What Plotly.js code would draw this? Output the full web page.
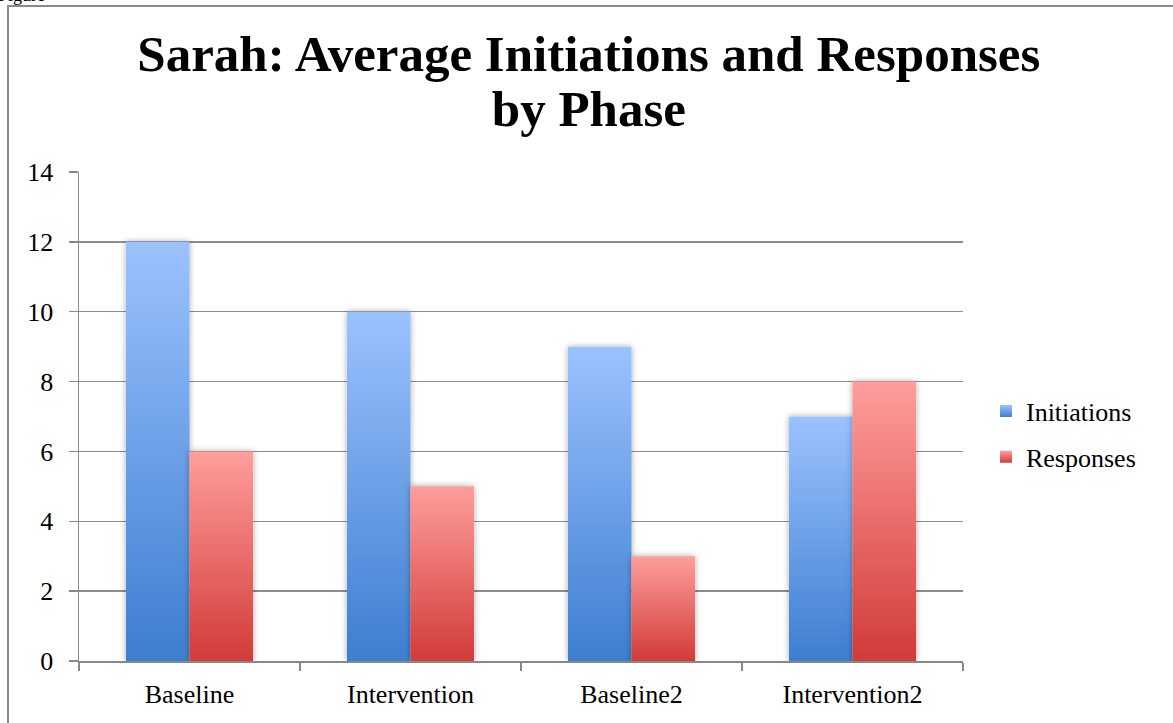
<!DOCTYPE html>
<html><head><meta charset="utf-8">
<script src="https://cdn.plot.ly/plotly-3.0.1.min.js"></script>
<style>
html,body{margin:0;padding:0;background:#fff;width:1173px;height:723px;overflow:hidden;}
#plot{position:absolute;left:0;top:0;width:1173px;height:723px;}
#frame{position:absolute;left:7px;top:5px;width:1170px;height:740px;border:2px solid #8a8a8a;box-sizing:border-box;pointer-events:none;}
#fig{position:absolute;left:-2px;top:-15px;font-family:"Liberation Serif",serif;font-size:18px;line-height:20px;color:#000;}
</style></head>
<body>
<div id="fig">Figure</div>
<div id="plot"></div>
<div id="frame"></div>
<script>
const categories = ["Baseline", "Intervention", "Baseline2", "Intervention2"];
const initiations = [12, 10, 9, 7];
const responses = [6, 5, 3, 8];
const yTicks = [0, 2, 4, 6, 8, 10, 12, 14];

const serif = '"Liberation Serif", "DejaVu Serif", serif';
const traces = [
  {type:'bar', name:'Initiations', x:categories, y:initiations, legendgroup:'a',
   marker:{color:'#6a9fe8', line:{width:0}}},
  {type:'bar', name:'Responses', x:categories, y:responses, legendgroup:'b',
   marker:{color:'#e86a68', line:{width:0}}}
];
const layout = {
  width:1173, height:723,
  margin:{l:79, r:210, t:172, b:62},
  paper_bgcolor:'rgba(0,0,0,0)', plot_bgcolor:'rgba(0,0,0,0)',
  barmode:'group', bargap:0.425, bargroupgap:0,
  title:{text:'<b>Sarah: Average Initiations and Responses<br>by Phase</b>',
    font:{family:serif, size:51, color:'#000'}, x:0.502, xanchor:'center', y:0.902, yanchor:'top'},
  font:{family:serif, size:26, color:'#000'},
  xaxis:{type:'category', showline:true, linecolor:'#888', linewidth:1.5,
    ticks:'outside', tickson:'boundaries', ticklen:8, tickcolor:'#888', tickwidth:1.5,
    tickfont:{family:serif, size:26}, showgrid:false, zeroline:false, ticklabelstandoff:9},
  yaxis:{range:[0,14], tickvals:yTicks, ticktext:yTicks.map(String), showline:true, linecolor:'#888', linewidth:1.5,
    ticks:'outside', ticklen:9, tickcolor:'#888', tickwidth:1.5,
    showgrid:true, gridcolor:'#8c8c8c', gridwidth:1.5, zeroline:false,
    tickfont:{family:serif, size:26}, ticklabelstandoff:10},
  legend:{x:1.026, xanchor:'left', y:0.464, yanchor:'middle', font:{family:serif, size:26},
    tracegroupgap:9, traceorder:'grouped', itemwidth:30, bgcolor:'rgba(0,0,0,0)'},
  showlegend:true
};
Plotly.newPlot('plot', traces, layout, {displayModeBar:false, staticPlot:true}).then(gd => {
  const svg = gd.querySelector('svg.main-svg');
  const ns = 'http://www.w3.org/2000/svg';
  const defs = document.createElementNS(ns, 'defs');
  function grad(id, top, bot){
    const g = document.createElementNS(ns, 'linearGradient');
    g.setAttribute('id', id); g.setAttribute('x1','0'); g.setAttribute('y1','0'); g.setAttribute('x2','0'); g.setAttribute('y2','1');
    [[0,top],[1,bot]].forEach(([o,c]) => {
      const s = document.createElementNS(ns,'stop'); s.setAttribute('offset', o); s.setAttribute('stop-color', c); g.appendChild(s);
    });
    defs.appendChild(g);
  }
  grad('gBlue', '#9cc2ff', '#3d7ecf');
  grad('gRed', '#ff9e9b', '#d13b38');
  const f = document.createElementNS(ns,'filter');
  f.setAttribute('id','shadow'); f.setAttribute('x','-20%'); f.setAttribute('y','-5%'); f.setAttribute('width','140%'); f.setAttribute('height','110%');
  f.innerHTML = '<feGaussianBlur in="SourceAlpha" stdDeviation="3"/><feOffset dx="0" dy="0" result="b"/><feComponentTransfer><feFuncA type="linear" slope="0.35"/></feComponentTransfer><feMerge><feMergeNode/><feMergeNode in="SourceGraphic"/></feMerge>';
  defs.appendChild(f);
  svg.insertBefore(defs, svg.firstChild);
  const ids = ['gBlue','gRed'];
  gd.querySelectorAll('.barlayer .trace').forEach((t,i) => {
    t.querySelectorAll('path').forEach(p => { p.style.fill = 'url(#'+ids[i]+')'; p.setAttribute('filter','url(#shadow)'); });
  });
  gd.querySelectorAll('.legend .traces').forEach((t,i) => {
    t.querySelectorAll('.legendpoints path').forEach(p => { p.style.fill = 'url(#'+ids[i]+')'; p.style.stroke='none'; });
  });
  // tighten title line spacing
  const lines = gd.querySelectorAll('.gtitle tspan.line');
  if (lines.length > 1) lines[1].setAttribute('dy', '55px');
});
</script>
</body></html>
